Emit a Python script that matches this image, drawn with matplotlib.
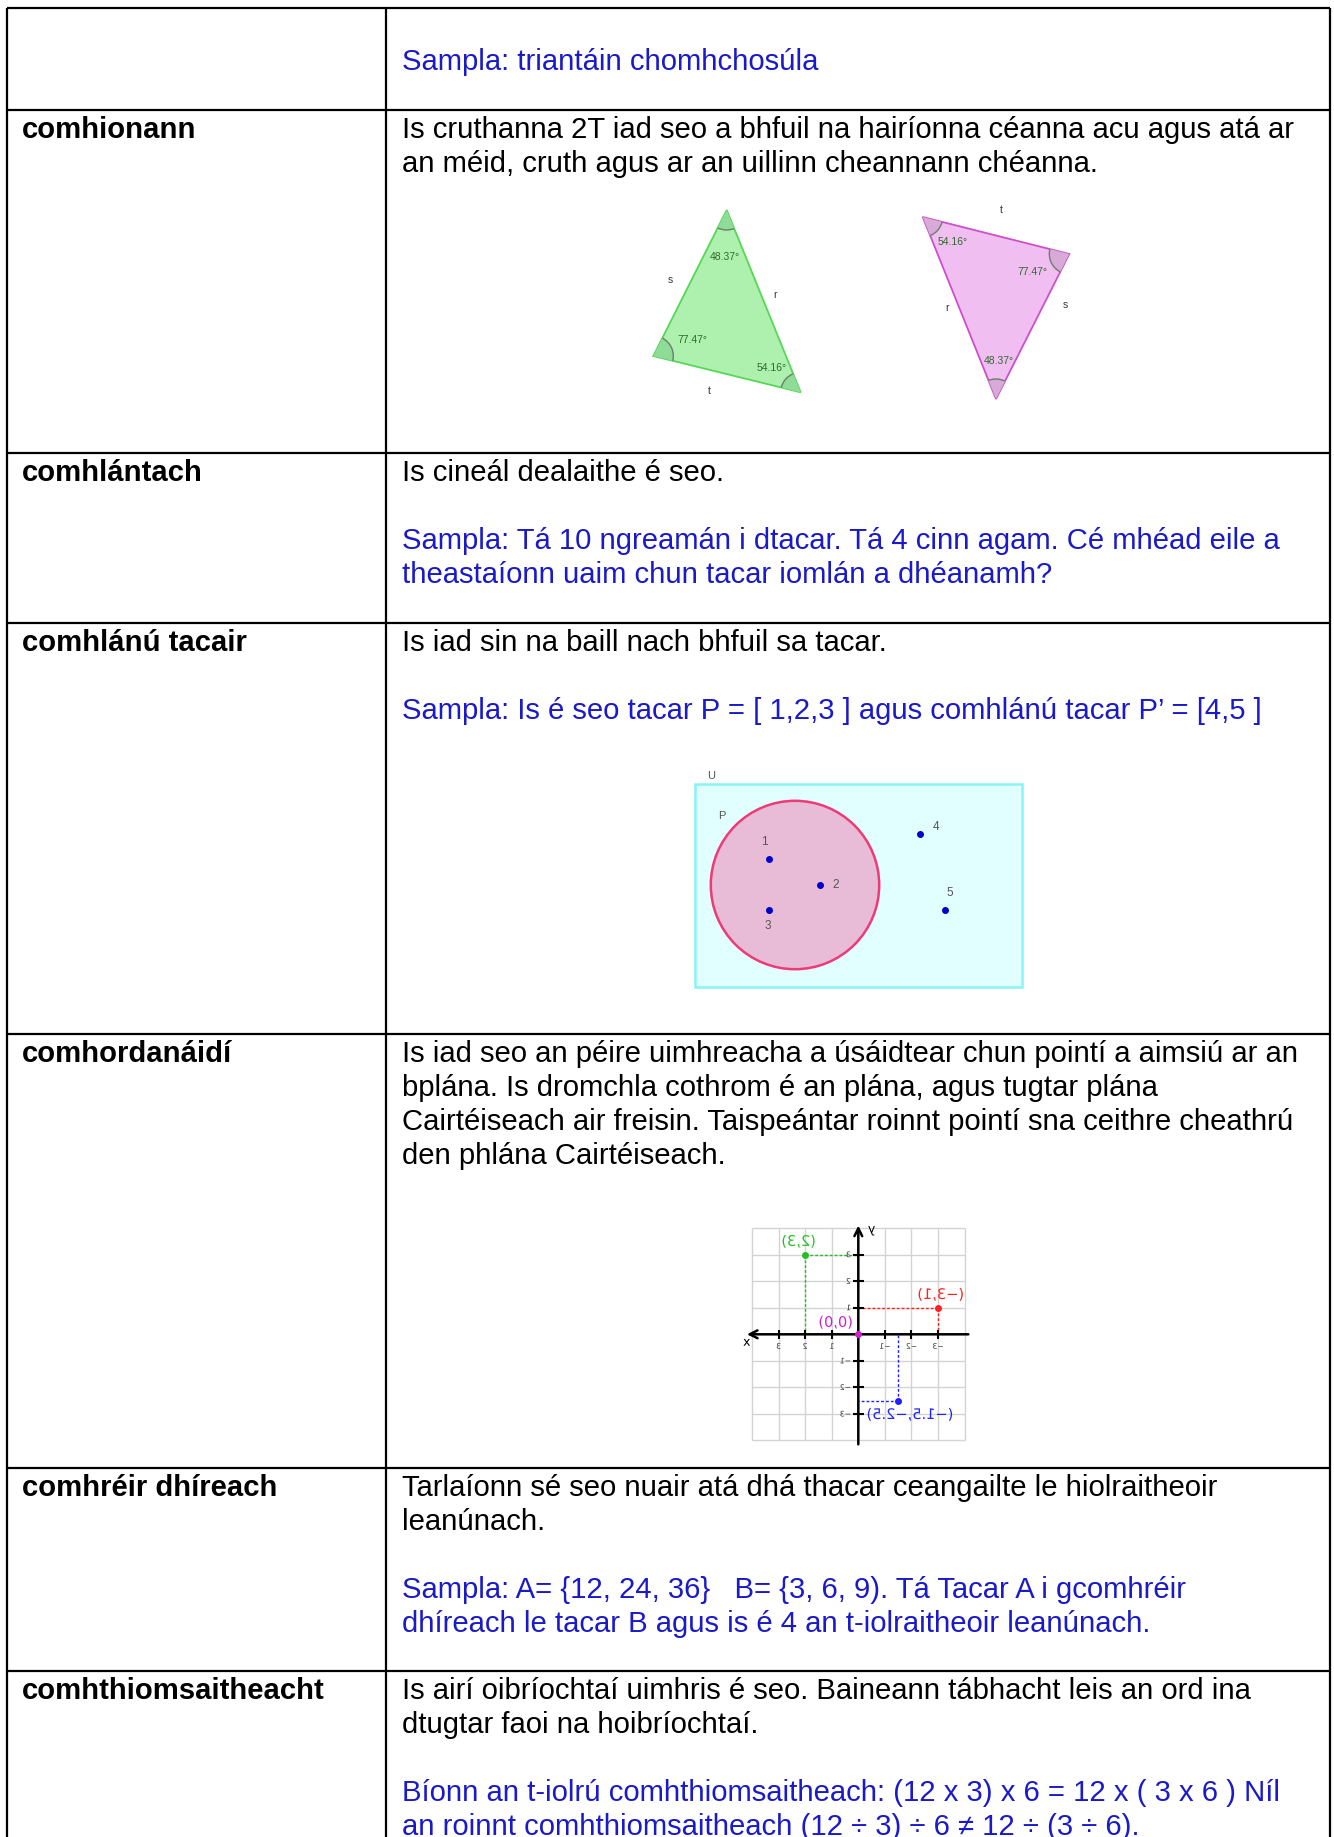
import numpy as np
import matplotlib.pyplot as plt
from matplotlib.patches import Polygon, Wedge, Arc, Circle, Rectangle
from matplotlib.patheffects import AbstractPathEffect
from matplotlib.transforms import Affine2D

W, H = 1334, 1837

# ---- table layout (pixels) ----
col_x = [6.5, 386, 1330]
row_y = [8, 110, 453, 623, 1034, 1468, 1671]

BLUE = '#1a1ac8'
BLACK = '#000000'

terms = ['', 'comhionann', 'comhlántach', 'comhlánú tacair', 'comhordanáidí',
         'comhréir dhíreach', 'comhthiomsaitheacht']

# each cell: list of lines (text, colour); None = empty line
definitions = [
    [None, ('Sampla: triantáin chomhchosúla', BLUE)],
    [('Is cruthanna 2T iad seo a bhfuil na hairíonna céanna acu agus atá ar', BLACK),
     ('an méid, cruth agus ar an uillinn cheannann chéanna.', BLACK)],
    [('Is cineál dealaithe é seo.', BLACK), None,
     ('Sampla: Tá 10 ngreamán i dtacar. Tá 4 cinn agam. Cé mhéad eile a', BLUE),
     ('theastaíonn uaim chun tacar iomlán a dhéanamh?', BLUE)],
    [('Is iad sin na baill nach bhfuil sa tacar.', BLACK), None,
     ('Sampla: Is é seo tacar P = [ 1,2,3 ] agus comhlánú tacar P’ = [4,5 ]', BLUE)],
    [('Is iad seo an péire uimhreacha a úsáidtear chun pointí a aimsiú ar an', BLACK),
     ('bplána. Is dromchla cothrom é an plána, agus tugtar plána', BLACK),
     ('Cairtéiseach air freisin. Taispeántar roinnt pointí sna ceithre cheathrú', BLACK),
     ('den phlána Cairtéiseach.', BLACK)],
    [('Tarlaíonn sé seo nuair atá dhá thacar ceangailte le hiolraitheoir', BLACK),
     ('leanúnach.', BLACK), None,
     ('Sampla: A= {12, 24, 36}   B= {3, 6, 9). Tá Tacar A i gcomhréir', BLUE),
     ('dhíreach le tacar B agus is é 4 an t-iolraitheoir leanúnach.', BLUE)],
    [('Is airí oibríochtaí uimhris é seo. Baineann tábhacht leis an ord ina', BLACK),
     ('dtugtar faoi na hoibríochtaí.', BLACK), None,
     ('Bíonn an t-iolrú comhthiomsaitheach: (12 x 3) x 6 = 12 x ( 3 x 6 ) Níl', BLUE),
     ('an roinnt comhthiomsaitheach (12 ÷ 3) ÷ 6 ≠ 12 ÷ (3 ÷ 6).', BLUE)],
]

# ---- similar triangles ----
green_tri = np.array([[726.7, 210], [653.3, 356], [800.7, 392.3]])
pink_tri = np.array([[922.7, 217], [1069.3, 254], [996, 399]])
angles_txt = {'green': ['48.37°', '77.47°', '54.16°'],
              'pink': ['54.16°', '77.47°', '48.37°']}
sides_txt = ['s', 'r', 't']

# ---- Venn diagram ----
set_U = [1, 2, 3, 4, 5]
in_P = [True, True, True, False, False]
elem_xy = np.array([[769.3, 859.3], [820, 885], [769.3, 910], [920, 834.3], [945, 910]])

# ---- coordinate plane (points drawn mirrored, as on the page) ----
pts_x = [2, -3, 0, -1.5]
pts_y = [3, 1, 0, -2.5]
pts_lbl = ['(2,3)', '(−3,1)', '(0,0)', '(−1.5,−2.5)']
pts_col = ['#22c022', '#ff2020', '#cc22cc', '#2020ff']
ticks = [-3, -2, -1, 1, 2, 3]

FS = 21.1
FONT = ['Liberation Sans', 'DejaVu Sans']


class Mirror(AbstractPathEffect):
    """draw the glyphs flipped left-right about the line centre"""
    def draw_path(self, renderer, gc, tpath, affine, rgbFace=None):
        ext = tpath.get_extents()
        cx = (ext.x0 + ext.x1) / 2
        flip = Affine2D().translate(-cx, 0).scale(-1, 1).translate(cx, 0)
        renderer.draw_path(gc, tpath, flip + affine, rgbFace)


fig = plt.figure(figsize=(W / 100, H / 100), dpi=100)
ax = fig.add_axes([0, 0, 1, 1])
ax.set_xlim(0, W)
ax.set_ylim(H, 0)
ax.axis('off')

# table grid
ax.vlines(col_x, row_y[0], H, color='k', lw=1.6)
ax.hlines(row_y, col_x[0], col_x[-1], color='k', lw=1.6)

line_h = 34
for r, (term, lines) in enumerate(zip(terms, definitions)):
    base = row_y[r] + 28
    ax.text(22, base, term, fontsize=FS, fontweight='bold', family=FONT, va='baseline')
    for i, ln in enumerate(lines):
        if ln is None:
            continue
        ax.text(402, base + i * line_h, ln[0], fontsize=FS, family=FONT,
                color=ln[1], va='baseline')


def draw_triangle(verts, face, edge, arc_face, labels, lbl_pos, side_pos):
    ax.add_patch(Polygon(verts, closed=True, facecolor=face, edgecolor=edge, lw=1.3))
    for k in range(3):
        v = verts[k]
        a = verts[(k + 1) % 3] - v
        b = verts[(k + 2) % 3] - v
        t1 = np.degrees(np.arctan2(a[1], a[0]))
        t2 = np.degrees(np.arctan2(b[1], b[0]))
        if (t2 - t1) % 360 > 180:
            t1, t2 = t2, t1
        ax.add_patch(Wedge(v, 20, t1, t2, facecolor=arc_face, edgecolor='none'))
        ax.add_patch(Arc(v, 40, 40, theta1=t1, theta2=t2, color='#6b7f6b', lw=1))
        ax.text(*lbl_pos[k], labels[k], fontsize=7.5, color='#2f6a2f', family=FONT,
                ha='center', va='center')
    for s, p in zip(sides_txt, side_pos):
        ax.text(*p, s, fontsize=7.5, color='#333333', family=FONT, ha='center', va='center')


draw_triangle(green_tri, '#aef0ae', '#55d855', '#8edc98', angles_txt['green'],
              [(725, 257), (692, 340), (772, 368)],
              [(670, 280), (775, 295), (709, 391)])
draw_triangle(pink_tri, '#f0bef0', '#cc4fcc', '#d8aad8', angles_txt['pink'],
              [(953, 242), (1032, 272), (999, 361)],
              [(1065.7, 305), (946.7, 308), (1001.7, 210)])

# Venn diagram
ax.add_patch(Rectangle((695, 784.3), 327.3, 202.4, facecolor='#e2ffff',
                       edgecolor='#88f4f4', lw=1.8))
ax.add_patch(Circle((795, 885), 84.2, facecolor='#e8bcd6', edgecolor='#ee3a78', lw=1.8))
ax.text(710.7, 776, 'U', fontsize=8, color='#555555', family=FONT, ha='center', va='center')
ax.text(722.3, 815.7, 'P', fontsize=8, color='#555555', family=FONT, ha='center', va='center')
lbl_off = [(-5, -17.6), (16, 0.3), (-1.6, 15.7), (16, -7), (5, -16.7)]
for e, inside, (x, y), (dx, dy) in zip(set_U, in_P, elem_xy, lbl_off):
    ax.plot(x, y, 'o', color='#0000cc', ms=4)
    ax.text(x + dx, y + dy, str(e), fontsize=8.5, color='#555555', family=FONT,
            ha='center', va='center')

# coordinate plane in its own axes, x running right-to-left (mirror image)
ox, oy, unit = 858.3, 1334.3, 26.55
span = 4.4
cax = fig.add_axes([(ox - span * unit) / W, 1 - (oy + span * unit) / H,
                    2 * span * unit / W, 2 * span * unit / H])
cax.set_xlim(span, -span)
cax.set_ylim(-span, span)
cax.axis('off')
grid = np.arange(-4, 5)
cax.hlines(grid, -4, 4, color='#d4d4d4', lw=1, zorder=1)
cax.vlines(grid, -4, 4, color='#d4d4d4', lw=1, zorder=1)
cax.annotate('', xy=(4.3, 0), xytext=(-4.25, 0),
             arrowprops=dict(arrowstyle='->', lw=1.8, color='k', mutation_scale=14))
cax.annotate('', xy=(0, 4.2), xytext=(0, -4.25),
             arrowprops=dict(arrowstyle='->', lw=1.8, color='k', mutation_scale=14))
cax.hlines(ticks, -0.2, 0.2, color='k', lw=1.5, zorder=3)
cax.vlines(ticks, -0.17, 0.17, color='k', lw=1.5, zorder=3)
mir = [Mirror()]
for t in ticks:
    lab = str(t).replace('-', '−')
    cax.text(t, -0.45, lab, fontsize=5.5, family='DejaVu Sans', ha='center', va='center',
             path_effects=mir, color='#333333')
    cax.text(0.28, t, lab, fontsize=5.5, family='DejaVu Sans', ha='right', va='center',
             path_effects=mir, color='#333333')
cax.text(4.2, -0.3, 'x', fontsize=9, family='DejaVu Sans', ha='center', va='center',
         path_effects=mir)
cax.text(-0.5, 3.95, 'y', fontsize=9, family='DejaVu Sans', ha='center', va='center',
         path_effects=mir)

lbl_pos = [(2.25, 3.5), (-3.1, 1.5), (0.85, 0.45), (-1.95, -3.02)]
for x, y, s, c, (lx, ly) in zip(pts_x, pts_y, pts_lbl, pts_col, lbl_pos):
    if x != 0:
        cax.plot([x, 0], [y, y], color=c, lw=1, ls=(0, (2, 1.5)), zorder=2)
        cax.plot([x, x], [y, 0], color=c, lw=1, ls=(0, (2, 1.5)), zorder=2)
    cax.plot(x, y, 'o', color=c, ms=4, zorder=4)
    cax.text(lx, ly, s, fontsize=10.5, family='DejaVu Sans', color=c, ha='center',
             va='center', path_effects=mir)

fig.savefig('out.png', dpi=100)
